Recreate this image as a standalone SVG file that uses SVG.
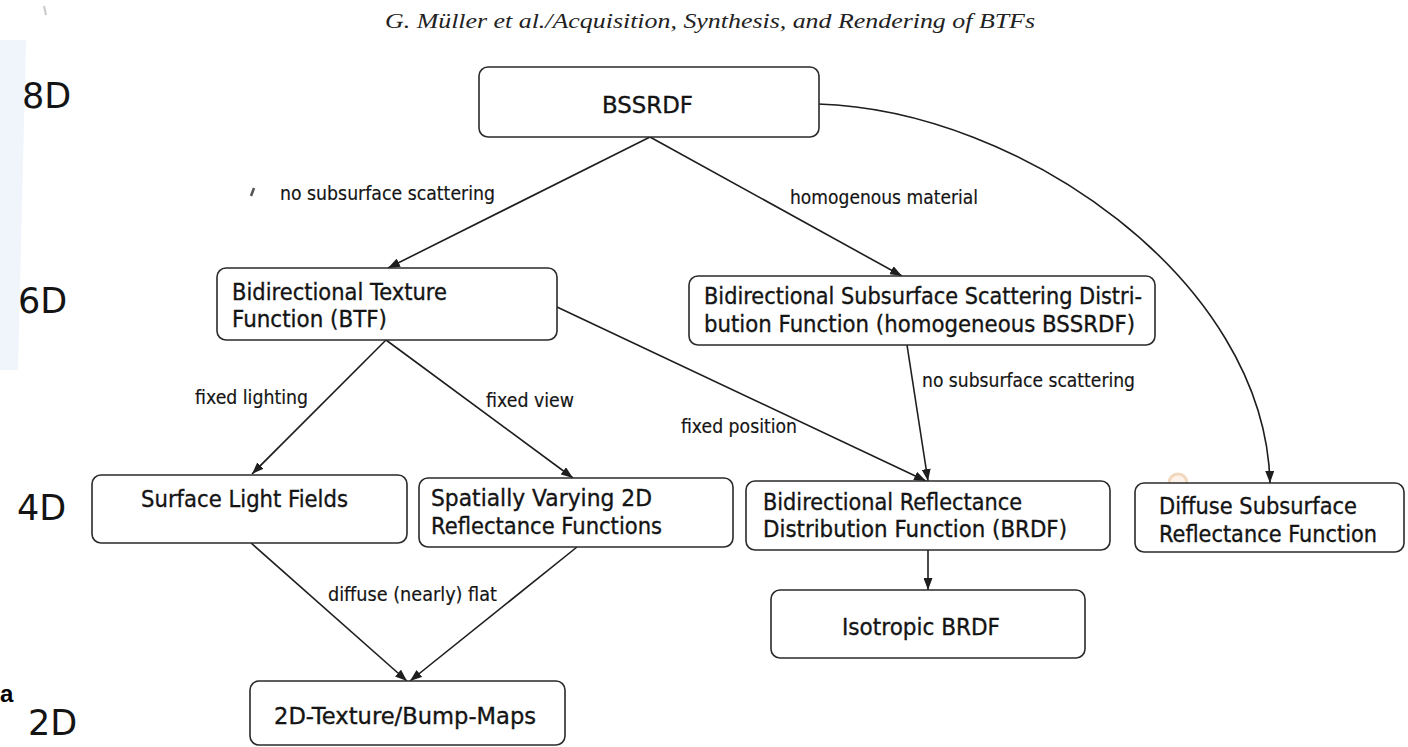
<svg xmlns="http://www.w3.org/2000/svg" width="1408" height="747" viewBox="0 0 1408 747">
<style>
.box{fill:#fff;stroke:#2a2a2a;stroke-width:1.6}
.nt{font-family:"DejaVu Sans","Liberation Sans",sans-serif;font-size:23px;fill:#141414;stroke:#141414;stroke-width:0.35}
.lb{font-family:"DejaVu Sans","Liberation Sans",sans-serif;font-size:20px;fill:#141414;stroke:#141414;stroke-width:0.2}
.dim{font-family:"DejaVu Sans","Liberation Sans",sans-serif;font-size:35px;fill:#141414}
.edge{fill:none;stroke:#1e1e1e;stroke-width:1.6}
</style>
<defs>
<marker id="ah" viewBox="0 0 12 9" refX="12" refY="4.5" markerWidth="12" markerHeight="9" markerUnits="userSpaceOnUse" orient="auto">
<path d="M0,0 L12,4.5 L0,9 z" fill="#1e1e1e"/>
</marker>
</defs>
<rect x="0" y="0" width="1408" height="747" fill="#fff"/>
<polygon points="0,40 26,40 18,370 0,370" fill="#f0f4fb"/>
<path d="M44,6 l2,9" stroke="#c8c8c8" stroke-width="2"/>
<path d="M251,196 l3,-8" stroke="#555" stroke-width="2.5"/>
<circle cx="1178" cy="483" r="9" fill="#fdf3ea" stroke="#f2d8bf" stroke-width="3"/>

<text x="385" y="28" font-family="'Liberation Serif',serif" font-style="italic" font-size="22" fill="#222" textLength="650" lengthAdjust="spacingAndGlyphs">G. Müller et al./Acquisition, Synthesis, and Rendering of BTFs</text>

<g id="dims">
<text class="dim" x="22" y="108">8D</text>
<text class="dim" x="18" y="313">6D</text>
<text class="dim" x="17" y="520">4D</text>
<text class="dim" x="28" y="735">2D</text>
<text x="0" y="702" font-family="'Liberation Sans',sans-serif" font-weight="bold" font-size="24" fill="#000">a</text>
</g>

<g id="connectors">
<line class="edge" x1="650" y1="137" x2="388" y2="268" marker-end="url(#ah)"/>
<line class="edge" x1="650" y1="137" x2="902" y2="276" marker-end="url(#ah)"/>
<path class="edge" d="M818,104 C1020,110 1265,280 1270,483" marker-end="url(#ah)"/>
<line class="edge" x1="386" y1="340" x2="252" y2="474" marker-end="url(#ah)"/>
<line class="edge" x1="386" y1="340" x2="573" y2="478" marker-end="url(#ah)"/>
<line class="edge" x1="557" y1="307" x2="926" y2="481" marker-end="url(#ah)"/>
<line class="edge" x1="907" y1="345" x2="928" y2="481" marker-end="url(#ah)"/>
<line class="edge" x1="928" y1="550" x2="928" y2="590" marker-end="url(#ah)"/>
<line class="edge" x1="251" y1="543" x2="407" y2="681" marker-end="url(#ah)"/>
<line class="edge" x1="577" y1="547" x2="410" y2="681" marker-end="url(#ah)"/>
<text class="lb" x="280" y="200" textLength="215" lengthAdjust="spacingAndGlyphs">no subsurface scattering</text>
<text class="lb" x="790" y="204" textLength="188" lengthAdjust="spacingAndGlyphs">homogenous material</text>
<text class="lb" x="195" y="404" textLength="113" lengthAdjust="spacingAndGlyphs">fixed lighting</text>
<text class="lb" x="486" y="407" textLength="88" lengthAdjust="spacingAndGlyphs">fixed view</text>
<text class="lb" x="681" y="433" textLength="116" lengthAdjust="spacingAndGlyphs">fixed position</text>
<text class="lb" x="922" y="387" textLength="213" lengthAdjust="spacingAndGlyphs">no subsurface scattering</text>
<text class="lb" x="328" y="601" textLength="169" lengthAdjust="spacingAndGlyphs">diffuse (nearly) flat</text>
</g>

<g id="bssrdf">
<rect class="box" x="479" y="67" width="340" height="70" rx="9"/>
<text class="nt" x="602" y="113" font-size="31" textLength="91" lengthAdjust="spacingAndGlyphs">BSSRDF</text>
</g>
<g id="btf">
<rect class="box" x="217" y="268" width="340" height="72" rx="9"/>
<text class="nt" x="232" y="300" textLength="215" lengthAdjust="spacingAndGlyphs">Bidirectional Texture</text>
<text class="nt" x="232" y="327" textLength="155" lengthAdjust="spacingAndGlyphs">Function (BTF)</text>
</g>
<g id="homog">
<rect class="box" x="689" y="276" width="466" height="69" rx="9"/>
<text class="nt" x="704" y="304" textLength="438" lengthAdjust="spacingAndGlyphs">Bidirectional Subsurface Scattering Distri-</text>
<text class="nt" x="704" y="332" textLength="431" lengthAdjust="spacingAndGlyphs">bution Function (homogeneous BSSRDF)</text>
</g>
<g id="slf">
<rect class="box" x="92" y="475" width="315" height="68" rx="9"/>
<text class="nt" x="141" y="507" textLength="207" lengthAdjust="spacingAndGlyphs">Surface Light Fields</text>
</g>
<g id="sv">
<rect class="box" x="419" y="478" width="314" height="69" rx="9"/>
<text class="nt" x="431" y="506" textLength="221" lengthAdjust="spacingAndGlyphs">Spatially Varying 2D</text>
<text class="nt" x="431" y="534" textLength="231" lengthAdjust="spacingAndGlyphs">Reflectance Functions</text>
</g>
<g id="brdf">
<rect class="box" x="746" y="481" width="364" height="69" rx="9"/>
<text class="nt" x="763" y="510" textLength="259" lengthAdjust="spacingAndGlyphs">Bidirectional Reflectance</text>
<text class="nt" x="763" y="537" textLength="304" lengthAdjust="spacingAndGlyphs">Distribution Function (BRDF)</text>
</g>
<g id="diffuse">
<rect class="box" x="1135" y="483" width="269" height="69" rx="9"/>
<text class="nt" x="1159" y="514" textLength="198" lengthAdjust="spacingAndGlyphs">Diffuse Subsurface</text>
<text class="nt" x="1159" y="542" textLength="218" lengthAdjust="spacingAndGlyphs">Reflectance Function</text>
</g>
<g id="isotropic">
<rect class="box" x="771" y="590" width="314" height="68" rx="9"/>
<text class="nt" x="842" y="635" textLength="158" lengthAdjust="spacingAndGlyphs">Isotropic BRDF</text>
</g>
<g id="texture2d">
<rect class="box" x="250" y="681" width="315" height="64" rx="9"/>
<text class="nt" x="274" y="724" textLength="262" lengthAdjust="spacingAndGlyphs">2D-Texture/Bump-Maps</text>
</g>
</svg>
